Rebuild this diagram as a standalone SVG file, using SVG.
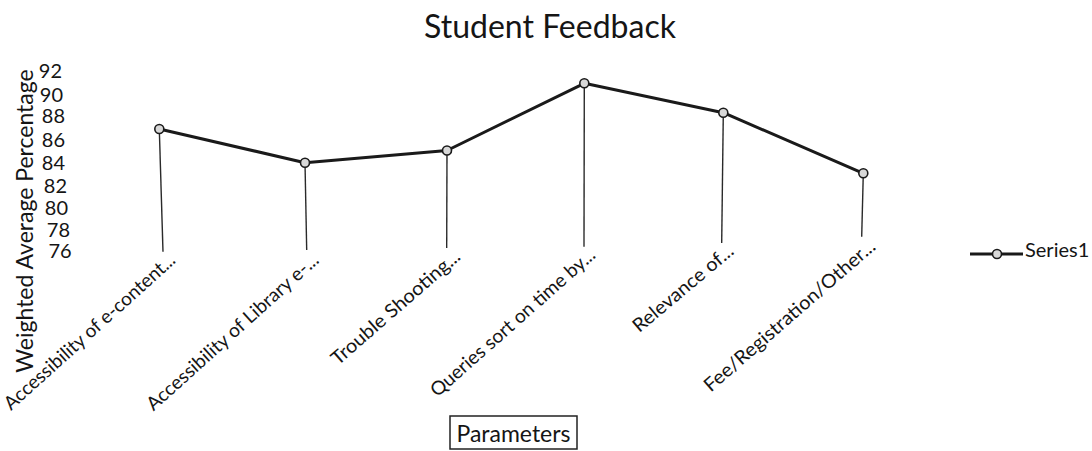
<svg xmlns="http://www.w3.org/2000/svg" width="1092" height="451" viewBox="0 0 1092 451">
<style>
  text { font-family: Lato, "Liberation Sans", sans-serif; fill: #151515; }
  .title { font-size: 32px; text-anchor: middle; }
  .tick { font-size: 20px; text-anchor: end; }
  .axtitle { font-size: 23px; text-anchor: middle; }
  .cat { font-size: 19px; text-anchor: end; }
  .leg { font-size: 20px; }
  .drop { stroke: #2a2a2a; stroke-width: 1.4; fill: none; }
  .series { stroke: #1a1a1a; stroke-width: 3; fill: none; stroke-linejoin: round; }
  .mk { fill: #d8d8d8; stroke: #1a1a1a; stroke-width: 1.6; }
</style>
<rect width="1092" height="451" fill="#ffffff"/>
<g id="title"><text class="title" x="550" y="38">Student Feedback</text></g>
<g id="y-axis">
  <text class="tick" x="62" y="78">92</text>
  <text class="tick" x="63" y="101.5">90</text>
  <text class="tick" x="65" y="123">88</text>
  <text class="tick" x="65" y="146.5">86</text>
  <text class="tick" x="65" y="169.5">84</text>
  <text class="tick" x="67" y="193">82</text>
  <text class="tick" x="68" y="214.5">80</text>
  <text class="tick" x="70" y="236.5">78</text>
  <text class="tick" x="71.7" y="258">76</text>
  <text class="axtitle" transform="translate(33,221) rotate(-90)">Weighted Average Percentage</text>
</g>
<g id="connectors">
  <line class="drop" x1="159.3" y1="129" x2="163" y2="251.7"/>
  <line class="drop" x1="305" y1="162.7" x2="306.7" y2="250"/>
  <line class="drop" x1="447" y1="150.5" x2="446.7" y2="248"/>
  <line class="drop" x1="584.3" y1="83.3" x2="584" y2="246.7"/>
  <line class="drop" x1="723.3" y1="112.7" x2="721.7" y2="243"/>
  <line class="drop" x1="863.3" y1="173.3" x2="861.7" y2="236.7"/>
  <polyline class="series" points="159.3,129 305,162.7 447,150.5 584.3,83.3 723.3,112.7 863.3,173.3"/>
</g>
<g id="p1"><circle class="mk" cx="159.3" cy="129" r="4.5"/><text class="cat" transform="translate(176.7,261.7) rotate(-42)" textLength="223" lengthAdjust="spacingAndGlyphs">Accessibility of e-content...</text></g>
<g id="p2"><circle class="mk" cx="305" cy="162.7" r="4.5"/><text class="cat" transform="translate(320,261.7) rotate(-42)" textLength="224" lengthAdjust="spacingAndGlyphs">Accessibility of Library e-...</text></g>
<g id="p3"><circle class="mk" cx="447" cy="150.5" r="4.5"/><text class="cat" transform="translate(461.7,258.3) rotate(-41)" textLength="164" lengthAdjust="spacingAndGlyphs">Trouble Shooting...</text></g>
<g id="p4"><circle class="mk" cx="584.3" cy="83.3" r="4.5"/><text class="cat" transform="translate(596.7,256.7) rotate(-41.5)" textLength="213" lengthAdjust="spacingAndGlyphs">Queries sort on time by...</text></g>
<g id="p5"><circle class="mk" cx="723.3" cy="112.7" r="4.5"/><text class="cat" transform="translate(735,253) rotate(-40)" textLength="125" lengthAdjust="spacingAndGlyphs">Relevance of...</text></g>
<g id="p6"><circle class="mk" cx="863.3" cy="173.3" r="4.5"/><text class="cat" transform="translate(876.7,248.3) rotate(-41)" textLength="220" lengthAdjust="spacingAndGlyphs">Fee/Registration/Other...</text></g>
<g id="x-axis-title">
  <rect x="450" y="416" width="127" height="33" fill="#ffffff" stroke="#222" stroke-width="1.5"/>
  <text class="axtitle" x="513.5" y="441.7">Parameters</text>
</g>
<g id="legend">
  <line class="series" x1="970" y1="254" x2="1023" y2="254" stroke-width="2.5"/>
  <circle class="mk" cx="997" cy="254" r="4.5"/>
  <text class="leg" x="1025" y="257.3">Series1</text>
</g>
</svg>
